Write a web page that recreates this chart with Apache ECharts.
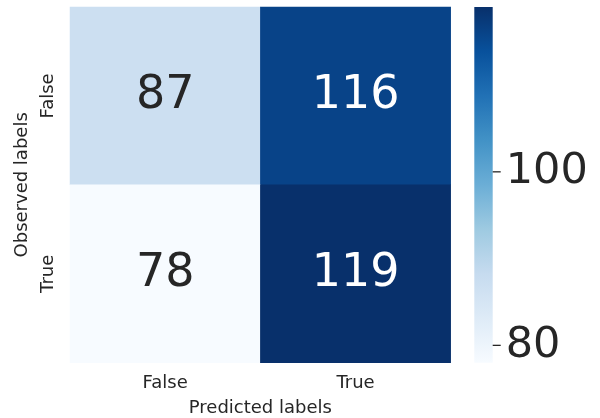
<!DOCTYPE html>
<html>
<head>
<meta charset="utf-8">
<script src="https://cdn.jsdelivr.net/npm/echarts@6/dist/echarts.min.js"></script>
<style>html,body{margin:0;padding:0;background:#fff;}#c{width:600px;height:418px;}</style>
</head>
<body>
<div id="c"></div>
<script>
const predictedLabels = ['False', 'True'];
const observedLabels = ['False', 'True'];
// rows = observed, cols = predicted
const rowFalse = [87, 116];
const rowTrue = [78, 119];
const colorbarTicks = [80, 100];
const vMin = 78, vMax = 119;

const blues = ['#f7fbff','#deebf7','#c6dbef','#9ecae1','#6baed6','#4292c6','#2171b5','#08519c','#08306b'];
const font = 'DejaVu Sans';
const ink = '#262626';

const rows = [rowFalse, rowTrue];
const data = [];
rows.forEach((row, r) => row.forEach((v, c) => {
  const light = (v - vMin) / (vMax - vMin) > 0.5;
  data.push({ value: [c, r, v], label: { color: light ? '#ffffff' : ink } });
}));

const chart = echarts.init(document.getElementById('c'), null, { renderer: 'canvas' });
chart.setOption({
  backgroundColor: '#ffffff',
  animation: false,
  textStyle: { fontFamily: font },
  grid: [
    { left: 70, top: 7, width: 380.7, height: 355.7, outerBoundsMode: 'none', containLabel: false },
    { left: 474.3, top: 7, width: 18.4, height: 355.7, outerBoundsMode: 'none', containLabel: false }
  ],
  xAxis: [
    {
      type: 'category', data: predictedLabels, gridIndex: 0,
      axisLine: { show: false }, axisTick: { show: false }, splitLine: { show: false },
      axisLabel: { fontSize: 18, color: ink, fontFamily: font, margin: 12 },
      name: 'Predicted labels', nameLocation: 'middle', nameGap: 37,
      nameTextStyle: { fontSize: 18, color: ink, fontFamily: font }
    },
    { type: 'value', gridIndex: 1, show: false, min: 0, max: 1 }
  ],
  yAxis: [
    {
      type: 'category', data: observedLabels, gridIndex: 0, inverse: true,
      axisLine: { show: false }, axisTick: { show: false }, splitLine: { show: false },
      axisLabel: { fontSize: 18, color: ink, fontFamily: font, rotate: 90, margin: 13 },
      name: 'Observed labels', nameLocation: 'middle', nameGap: 33, nameRotate: 90,
      nameTextStyle: { fontSize: 18, color: ink, fontFamily: font }
    },
    {
      type: 'value', gridIndex: 1, min: vMin, max: vMax, position: 'right',
      axisLine: { show: false }, splitLine: { show: false }, axisTick: { show: false },
      axisLabel: { customValues: colorbarTicks, fontSize: 43, color: ink, fontFamily: font, margin: 13, padding: [4, 0, 0, 0] }
    }
  ],
  visualMap: {
    type: 'continuous', min: vMin, max: vMax, show: false,
    seriesIndex: 0, inRange: { color: blues }
  },
  series: [
    {
      type: 'heatmap', xAxisIndex: 0, yAxisIndex: 0, data: data,
      itemStyle: { borderWidth: 0 },
      emphasis: { disabled: true },
      label: { show: true, fontSize: 46, fontFamily: font, formatter: p => p.value[2] }
    },
    {
      type: 'custom', xAxisIndex: 1, yAxisIndex: 1, silent: true, clip: false,
      data: [[0, vMin, 1, vMax]],
      renderItem: (params, api) => {
        const p0 = api.coord([api.value(0), api.value(1)]);
        const p1 = api.coord([api.value(2), api.value(3)]);
        const stops = blues.map((c, i) => ({ offset: 1 - i / (blues.length - 1), color: c })).reverse();
        return {
          type: 'rect',
          shape: { x: p0[0], y: p1[1], width: p1[0] - p0[0], height: p0[1] - p1[1] },
          style: { fill: new echarts.graphic.LinearGradient(0, 0, 0, 1, stops) }
        };
      }
    },
    {
      type: 'custom', xAxisIndex: 1, yAxisIndex: 1, silent: true, clip: false,
      data: colorbarTicks.map(v => [1, v]),
      renderItem: (params, api) => {
        const p = api.coord([api.value(0), api.value(1)]);
        return {
          type: 'line',
          shape: { x1: p[0], y1: p[1], x2: p[0] + 8, y2: p[1] },
          style: { stroke: ink, lineWidth: 1.3 }
        };
      }
    }
  ]
});
</script>
</body>
</html>
